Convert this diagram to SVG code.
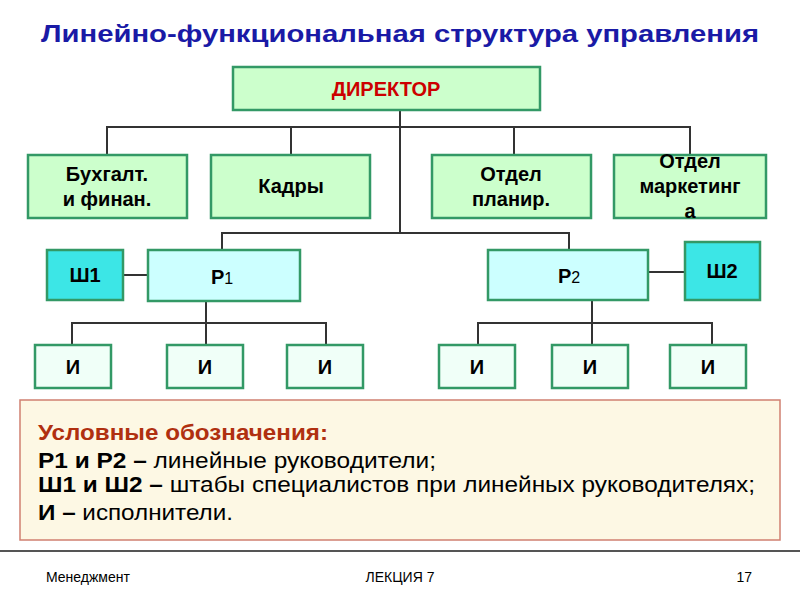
<svg xmlns="http://www.w3.org/2000/svg" width="800" height="600" viewBox="0 0 800 600">
<style>
text{font-family:"Liberation Sans",Arial,sans-serif;}
.g{fill:#ccffcc;stroke:#339966;stroke-width:2.5}
.c{fill:#ccffff;stroke:#339966;stroke-width:2.5}
.s{fill:#3ce6e6;stroke:#339966;stroke-width:2.5}
.w{fill:#f0fff8;stroke:#339966;stroke-width:2.5}
.t{font-size:20px;font-weight:bold;fill:#000;text-anchor:middle}
.e{stroke:#333;stroke-width:2;fill:none}
.l{font-size:22px}
</style>
<rect width="800" height="600" fill="#fff"/>
<text x="400" y="42" text-anchor="middle" font-size="24" font-weight="bold" fill="#1a1aa6" textLength="718" lengthAdjust="spacingAndGlyphs">Линейно-функциональная структура управления</text>
<g id="connectors">
<path class="e" d="M400 110V232M107 155V127H690V155M291 127V155M514 127V155M222 250V233H569V250M123 275H148M648 272H685M206 301V323M72 345V323H326V345M206 323V345M592 300V323M478 345V323H712V345M592 323V345"/>
</g>
<g id="director"><rect class="g" x="233" y="67" width="307" height="43"/><text class="t" x="386" y="96" style="fill:#cc0000">ДИРЕКТОР</text></g>
<g id="buh"><rect class="g" x="28" y="155" width="159" height="63"/><text class="t" x="107" y="181">Бухгалт.</text><text class="t" x="107" y="206">и финан.</text></g>
<g id="kadry"><rect class="g" x="211" y="155" width="159" height="63"/><text class="t" x="291" y="193">Кадры</text></g>
<g id="plan"><rect class="g" x="432" y="155" width="159" height="63"/><text class="t" x="511" y="181">Отдел</text><text class="t" x="511" y="206">планир.</text></g>
<g id="market"><rect class="g" x="614" y="155" width="152" height="63"/><text class="t" x="690" y="168">Отдел</text><text class="t" x="690" y="193">маркетинг</text><text class="t" x="690" y="218">а</text></g>
<g id="sh1"><rect class="s" x="47" y="250" width="76" height="50"/><text class="t" x="85" y="282">Ш1</text></g>
<g id="p1"><rect class="c" x="148" y="250" width="152" height="51"/><text class="t" x="222" y="284">Р<tspan font-size="16" font-weight="normal">1</tspan></text></g>
<g id="p2"><rect class="c" x="488" y="250" width="160" height="50"/><text class="t" x="569" y="283">Р<tspan font-size="16" font-weight="normal">2</tspan></text></g>
<g id="sh2"><rect class="s" x="685" y="242" width="75" height="58"/><text class="t" x="722" y="278">Ш2</text></g>
<g id="i1"><rect class="w" x="35" y="345" width="76" height="43"/><text class="t" x="73" y="374">И</text></g>
<g id="i2"><rect class="w" x="167" y="345" width="76" height="43"/><text class="t" x="205" y="374">И</text></g>
<g id="i3"><rect class="w" x="287" y="345" width="76" height="43"/><text class="t" x="325" y="374">И</text></g>
<g id="i4"><rect class="w" x="439" y="345" width="76" height="43"/><text class="t" x="477" y="374">И</text></g>
<g id="i5"><rect class="w" x="552" y="345" width="76" height="43"/><text class="t" x="590" y="374">И</text></g>
<g id="i6"><rect class="w" x="670" y="345" width="76" height="43"/><text class="t" x="708" y="374">И</text></g>
<g id="legend">
<rect x="20" y="400" width="760" height="140" fill="#fdf8e4" stroke="#d08070" stroke-width="1.5"/>
<text class="l" x="38" y="440" font-weight="bold" fill="#b03010" textLength="290" lengthAdjust="spacingAndGlyphs">Условные обозначения:</text>
<text class="l" x="38" y="468" textLength="398" lengthAdjust="spacingAndGlyphs"><tspan font-weight="bold">Р1 и Р2 –</tspan> линейные руководители;</text>
<text class="l" x="38" y="492" textLength="717" lengthAdjust="spacingAndGlyphs"><tspan font-weight="bold">Ш1 и Ш2 –</tspan> штабы специалистов при линейных руководителях;</text>
<text class="l" x="38" y="520" textLength="195" lengthAdjust="spacingAndGlyphs"><tspan font-weight="bold">И –</tspan> исполнители.</text>
</g>
<line x1="0" y1="551" x2="800" y2="551" stroke="#555" stroke-width="2"/>
<text x="46" y="582" font-size="14">Менеджмент</text>
<text x="400" y="582" font-size="14" text-anchor="middle">ЛЕКЦИЯ 7</text>
<text x="752" y="582" font-size="14" text-anchor="end">17</text>
</svg>
